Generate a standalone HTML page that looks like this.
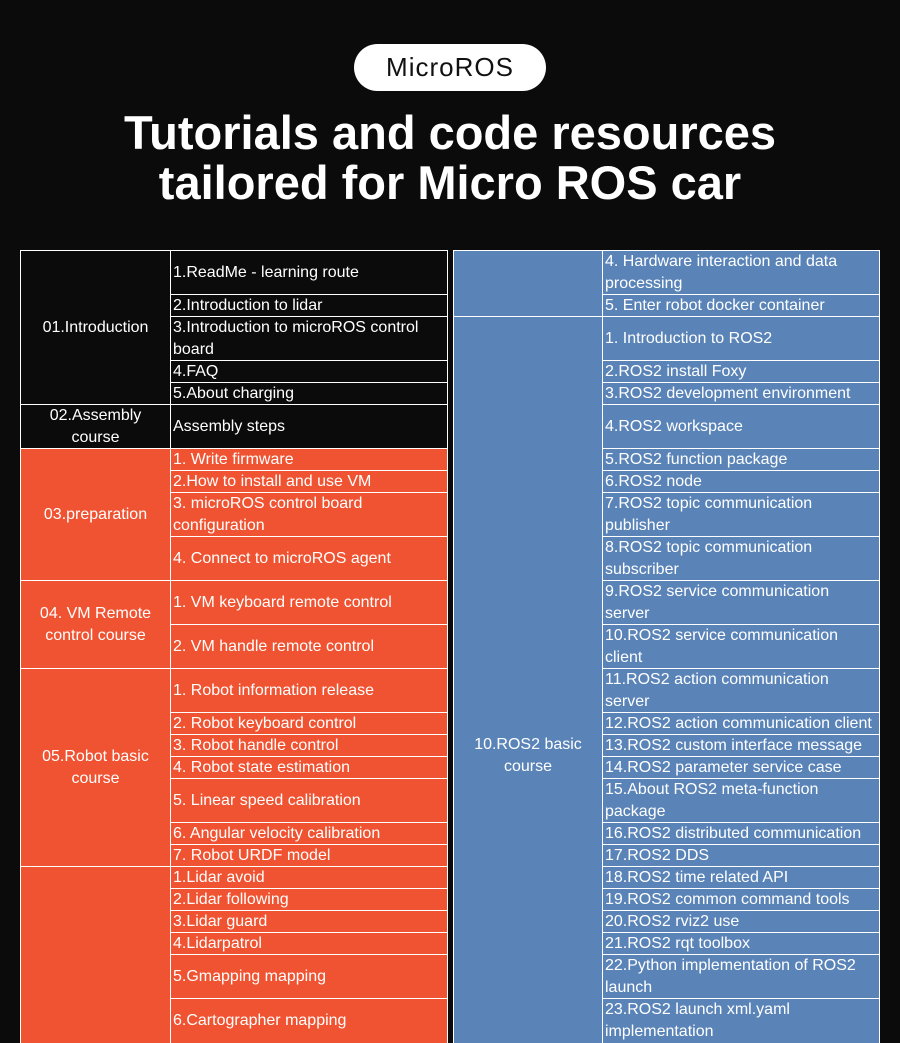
<!DOCTYPE html>
<html><head><meta charset="utf-8"><style>
body{margin:0;background:#0b0b0b;width:900px;height:1043px;overflow:hidden;position:relative;font-family:"Liberation Sans","DejaVu Sans",sans-serif}
.pill{position:absolute;left:354px;top:44px;width:192px;height:47px;background:#fff;border-radius:24px;color:#111;font-size:26px;letter-spacing:1px;display:flex;align-items:center;justify-content:center}
.t{position:absolute;left:0;width:900px;text-align:center;color:#fff;font-weight:bold;font-size:47px;line-height:50px}
.w{position:absolute;background:#fff}
.c{position:absolute;display:flex;align-items:center;font-size:16px;line-height:22px;padding-left:2px;box-sizing:border-box;color:#fff;white-space:nowrap;overflow:hidden}
.m{justify-content:center;text-align:center;padding:0}
.k{background:#0b0b0b}.o{background:#f05331}.b{background:#5a84b8}
.a{left:21px;width:149px}.l{left:171px;width:276px}.r1{left:454px;width:148px}.r2{left:603px;width:276px}
</style></head><body>
<div class="pill">MicroROS</div>
<div class="t" style="top:108px">Tutorials and code resources</div>
<div class="t" style="top:158px">tailored for Micro ROS car</div>
<div class="w" style="left:20px;top:250px;width:428px;height:793px"></div>
<div class="w" style="left:453px;top:250px;width:427px;height:793px"></div>

<div class="c k a m" style="top:251px;height:153px">01.Introduction</div>
<div class="c k a m" style="top:405px;height:43px">02.Assembly<br>course</div>
<div class="c o a m" style="top:449px;height:131px">03.preparation</div>
<div class="c o a m" style="top:581px;height:87px">04. VM Remote<br>control course</div>
<div class="c o a m" style="top:669px;height:197px">05.Robot basic<br>course</div>
<div class="c o a m" style="top:867px;height:176px"></div>

<div class="c k l" style="top:251px;height:43px">1.ReadMe - learning route</div>
<div class="c k l" style="top:295px;height:21px">2.Introduction to lidar</div>
<div class="c k l" style="top:317px;height:43px">3.Introduction to microROS control<br>board</div>
<div class="c k l" style="top:361px;height:21px">4.FAQ</div>
<div class="c k l" style="top:383px;height:21px">5.About charging</div>
<div class="c k l" style="top:405px;height:43px">Assembly steps</div>
<div class="c o l" style="top:449px;height:21px">1. Write firmware</div>
<div class="c o l" style="top:471px;height:21px">2.How to install and use VM</div>
<div class="c o l" style="top:493px;height:43px">3. microROS control board<br>configuration</div>
<div class="c o l" style="top:537px;height:43px">4. Connect to microROS agent</div>
<div class="c o l" style="top:581px;height:43px">1. VM keyboard remote control</div>
<div class="c o l" style="top:625px;height:43px">2. VM handle remote control</div>
<div class="c o l" style="top:669px;height:43px">1. Robot information release</div>
<div class="c o l" style="top:713px;height:21px">2. Robot keyboard control</div>
<div class="c o l" style="top:735px;height:21px">3. Robot handle control</div>
<div class="c o l" style="top:757px;height:21px">4. Robot state estimation</div>
<div class="c o l" style="top:779px;height:43px">5. Linear speed calibration</div>
<div class="c o l" style="top:823px;height:21px">6. Angular velocity calibration</div>
<div class="c o l" style="top:845px;height:21px">7. Robot URDF model</div>
<div class="c o l" style="top:867px;height:21px">1.Lidar avoid</div>
<div class="c o l" style="top:889px;height:21px">2.Lidar following</div>
<div class="c o l" style="top:911px;height:21px">3.Lidar guard</div>
<div class="c o l" style="top:933px;height:21px">4.Lidarpatrol</div>
<div class="c o l" style="top:955px;height:43px">5.Gmapping mapping</div>
<div class="c o l" style="top:999px;height:44px">6.Cartographer mapping</div>

<div class="c b r1 m" style="top:251px;height:65px"></div>
<div class="c b r1 m" style="top:317px;height:726px;padding-top:152px">10.ROS2 basic<br>course</div>

<div class="c b r2" style="top:251px;height:43px">4. Hardware interaction and data<br>processing</div>
<div class="c b r2" style="top:295px;height:21px">5. Enter robot docker container</div>
<div class="c b r2" style="top:317px;height:43px">1. Introduction to ROS2</div>
<div class="c b r2" style="top:361px;height:21px">2.ROS2 install Foxy</div>
<div class="c b r2" style="top:383px;height:21px">3.ROS2 development environment</div>
<div class="c b r2" style="top:405px;height:43px">4.ROS2 workspace</div>
<div class="c b r2" style="top:449px;height:21px">5.ROS2 function package</div>
<div class="c b r2" style="top:471px;height:21px">6.ROS2 node</div>
<div class="c b r2" style="top:493px;height:43px">7.ROS2 topic communication<br>publisher</div>
<div class="c b r2" style="top:537px;height:43px">8.ROS2 topic communication<br>subscriber</div>
<div class="c b r2" style="top:581px;height:43px">9.ROS2 service communication<br>server</div>
<div class="c b r2" style="top:625px;height:43px">10.ROS2 service communication<br>client</div>
<div class="c b r2" style="top:669px;height:43px">11.ROS2 action communication<br>server</div>
<div class="c b r2" style="top:713px;height:21px">12.ROS2 action communication client</div>
<div class="c b r2" style="top:735px;height:21px">13.ROS2 custom interface message</div>
<div class="c b r2" style="top:757px;height:21px">14.ROS2 parameter service case</div>
<div class="c b r2" style="top:779px;height:43px">15.About ROS2 meta-function<br>package</div>
<div class="c b r2" style="top:823px;height:21px">16.ROS2 distributed communication</div>
<div class="c b r2" style="top:845px;height:21px">17.ROS2 DDS</div>
<div class="c b r2" style="top:867px;height:21px">18.ROS2 time related API</div>
<div class="c b r2" style="top:889px;height:21px">19.ROS2 common command tools</div>
<div class="c b r2" style="top:911px;height:21px">20.ROS2 rviz2 use</div>
<div class="c b r2" style="top:933px;height:21px">21.ROS2 rqt toolbox</div>
<div class="c b r2" style="top:955px;height:43px">22.Python implementation of ROS2<br>launch</div>
<div class="c b r2" style="top:999px;height:44px">23.ROS2 launch xml.yaml<br>implementation</div>
</body></html>
